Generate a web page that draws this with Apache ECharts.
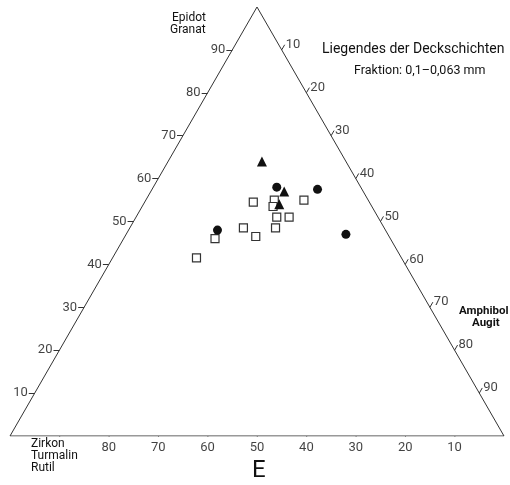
<!DOCTYPE html>
<html lang="de">

<head>
    <meta charset="UTF-8">
    <script src="https://cdn.jsdelivr.net/npm/echarts@6/dist/echarts.min.js"></script>
    <title>Liegendes der Deckschichten</title>
    <style>
        body { margin: 0; background: #fff; }
    </style>
</head>

<body>
    <div id="main" style="width: 510px;height:485px;"></div>

    <script type="text/javascript">
        // Zirkon/Turmalin/Rutil (links), Epidot/Granat (oben), Amphibol/Augit (rechts), in %
        var sqEpidot = [54.5, 55, 53.5, 55, 51, 51, 48.5, 48.5, 46.5, 46, 41.5];
        var sqAmphibol = [22, 26, 26.5, 32, 28.5, 31, 23, 29.5, 26.5, 18.5, 17];
        var sqZirkon = [23.5, 19, 20, 13, 20.5, 18, 28.5, 22, 27, 35.5, 41.5];

        var ciEpidot = [58, 57.5, 48, 47];
        var ciAmphibol = [25, 33.5, 18, 44.5];
        var ciZirkon = [17, 9, 34, 8.5];

        var trEpidot = [64, 57, 54];
        var trAmphibol = [19, 27, 27.5];
        var trZirkon = [17, 16, 18.5];

        var tickValues = [10, 20, 30, 40, 50, 60, 70, 80, 90];
        var leftLabels = [10, 20, 30, 40, 50, 60, 70, 80, 90];
        var rightLabels = [10, 20, 30, 40, 50, 60, 70, 80, 90];
        var bottomLabels = [80, 70, 60, 50, 40, 30, 20, 10];

        var H = Math.sqrt(3) / 2;
        var TICK = 1.2;
        var FONT = "Roboto, 'Liberation Sans', sans-serif";

        // ternary -> cartesian (x 0..100, y 0..86.6)
        function tern(z, e, a) {
            var s = z + e + a;
            e = e / s * 100;
            a = a / s * 100;
            return [a + e / 2, e * H];
        }

        function pts(zs, es, as) {
            return zs.map(function (z, i) { return tern(z, es[i], as[i]); });
        }

        var outline = [tern(100, 0, 0), tern(0, 100, 0), tern(0, 0, 100), tern(100, 0, 0)];

        var ticks = [];
        var leftLab = [], rightLab = [], bottomLab = [];
        tickValues.forEach(function (v) {
            // links: Epidot
            var p = tern(100 - v, v, 0);
            ticks.push({ coords: [p, [p[0] - TICK, p[1]]] });
            // rechts: Amphibol
            var q = tern(0, 100 - v, v);
            ticks.push({ coords: [q, [q[0] + TICK * 0.5, q[1] + TICK * H]] });
            // unten: Zirkon
            var r = tern(v, 0, 100 - v);
            ticks.push({ coords: [r, [r[0] + TICK * 0.5, r[1] - TICK * H]] });
        });
        leftLabels.forEach(function (v) {
            var p = tern(100 - v, v, 0);
            leftLab.push([p[0] - TICK, p[1], v]);
        });
        rightLabels.forEach(function (v) {
            var q = tern(0, 100 - v, v);
            rightLab.push([q[0] + TICK * 0.5, q[1] + TICK * H, v]);
        });
        bottomLabels.forEach(function (v) {
            var r = tern(v, 0, 100 - v);
            bottomLab.push([r[0], r[1], v]);
        });

        function labelSeries(data, pos, dist) {
            return {
                type: 'scatter',
                data: data,
                symbolSize: 0,
                silent: true,
                label: {
                    show: true,
                    position: pos,
                    distance: dist,
                    color: '#111',
                    fontSize: 13,
                    fontFamily: FONT,
                    formatter: function (p) { return p.value[2]; }
                }
            };
        }

        var myChart = echarts.init(document.getElementById('main'));

        var option = {
            backgroundColor: '#fff',
            animation: false,
            grid: { left: 10, right: 6, top: 7, bottom: 49 },
            xAxis: { type: 'value', min: 0, max: 100, show: false },
            yAxis: { type: 'value', min: 0, max: 100 * H, show: false },
            title: [{
                text: 'Liegendes der Deckschichten',
                left: 317,
                top: 37,
                textStyle: { fontSize: 14, fontWeight: 'normal', color: '#111', fontFamily: FONT }
            }, {
                text: 'Fraktion: 0,1\u20130,063 mm',
                left: 349,
                top: 59,
                textStyle: { fontSize: 12.5, fontWeight: 'normal', color: '#111', fontFamily: FONT }
            }],
            graphic: [{
                type: 'text', left: 172, top: 12,
                style: { text: 'Epidot', fill: '#111', font: '12px ' + FONT }
            }, {
                type: 'text', left: 170, top: 24,
                style: { text: 'Granat', fill: '#111', font: '12px ' + FONT }
            }, {
                type: 'text', left: 459, top: 305,
                style: { text: 'Amphibol', fill: '#111', font: 'bold 11.5px ' + FONT }
            }, {
                type: 'text', left: 472, top: 317,
                style: { text: 'Augit', fill: '#111', font: 'bold 11.5px ' + FONT }
            }, {
                type: 'text', left: 31, top: 438,
                style: { text: 'Zirkon\nTurmalin\nRutil', fill: '#111', font: '12px ' + FONT, lineHeight: 12 }
            }, {
                type: 'text', left: 252, top: 459,
                style: { text: 'E', fill: '#111', font: '24px ' + FONT }
            }],
            series: [{
                type: 'line',
                data: outline,
                symbol: 'none',
                silent: true,
                lineStyle: { color: '#333', width: 1 }
            }, {
                type: 'lines',
                coordinateSystem: 'cartesian2d',
                data: ticks,
                silent: true,
                lineStyle: { color: '#333', width: 1, opacity: 1 }
            },
            labelSeries(leftLab, 'left', 1),
            labelSeries(rightLab, 'right', 1),
            labelSeries(bottomLab, 'bottom', 5),
            {
                type: 'scatter',
                data: pts(sqZirkon, sqEpidot, sqAmphibol),
                symbol: 'rect',
                symbolSize: 8,
                itemStyle: { color: '#fff', borderColor: '#333', borderWidth: 1.2, opacity: 1 }
            }, {
                type: 'scatter',
                data: pts(ciZirkon, ciEpidot, ciAmphibol),
                symbol: 'circle',
                symbolSize: 9,
                itemStyle: { color: '#111', opacity: 1 }
            }, {
                type: 'scatter',
                data: pts(trZirkon, trEpidot, trAmphibol),
                symbol: 'triangle',
                symbolSize: 10,
                itemStyle: { color: '#111', opacity: 1 }
            }]
        };

        myChart.setOption(option);
    </script>

</body>

</html>
